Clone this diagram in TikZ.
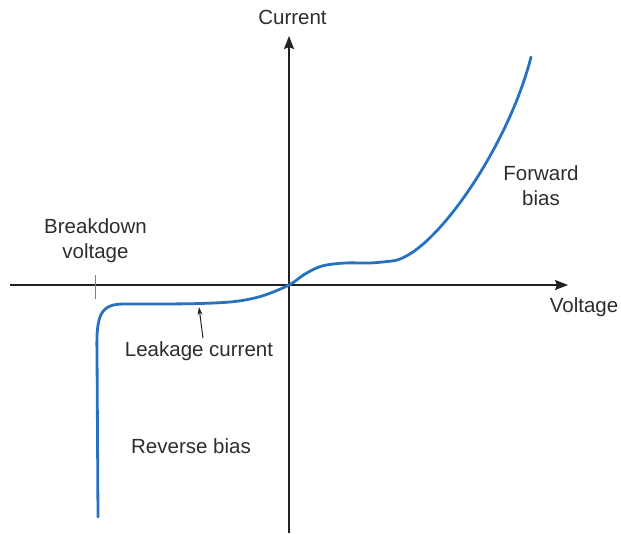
\documentclass[tikz,border=0pt]{standalone}
\usepackage{fontspec}
\setmainfont{Liberation Sans}
\usetikzlibrary{arrows.meta}
\definecolor{curveblue}{RGB}{38,114,192}
\definecolor{axisgray}{RGB}{34,34,34}
\definecolor{textgray}{RGB}{45,45,45}
\begin{document}
\begin{tikzpicture}[x=1pt,y=-1pt,
  axisline/.style={draw=axisgray,line width=2pt,-{Stealth[length=13pt,width=10pt,inset=2pt]}},
  lbl/.style={text=textgray,font=\fontsize{20.5}{25}\selectfont,inner sep=0pt,align=center},
  ivcurve/.style={draw=curveblue,line width=2.8pt,line cap=round,line join=round},
  pointer/.style={draw=axisgray,line width=1pt,-{Stealth[length=8pt,width=5pt]}}]
\useasboundingbox (0,0) rectangle (621,533);
% axes ends
\coordinate (xl) at (10,285);
\coordinate (xr) at (568,285);
\coordinate (yb) at (289,533);
\coordinate (yt) at (289,36);
\draw[axisline] (xl) -- (xr);
\draw[axisline] (yb) -- (yt);
% breakdown tick
\coordinate (tt) at (95,275);
\coordinate (tb) at (95,299);
\draw[gray,line width=1pt] (tt) -- (tb);
% curve
\draw[ivcurve] (98,517) -- (97,352) .. controls (96,314) and (101,304) .. (124,304)
  plot[smooth,tension=0.55] coordinates {(124,304) (160,304) (200,303.5) (235,301.5) (262,296) (289,285) (305,274) (322,266) (345,263) (370,263) (392,261)}
  .. controls (432,257) and (508,148) .. (531,57);
% labels
\node[lbl] (cur) at (292.5,17) {Current};
\node[lbl] (volt) at (584,307) {Voltage};
\node[lbl] (bd) at (95.5,241) {Breakdown\\voltage};
\node[lbl] (fw) at (541,186) {Forward\\bias};
\node[lbl] (leak) at (199,351) {Leakage current};
\node[lbl] (rev) at (191,446) {Reverse bias};
\coordinate (leaktip) at (199,307);
\path (leak.north) ++(4,-3) coordinate (leakstart);
\draw[pointer] (leakstart) -- (leaktip);
\end{tikzpicture}
\end{document}
